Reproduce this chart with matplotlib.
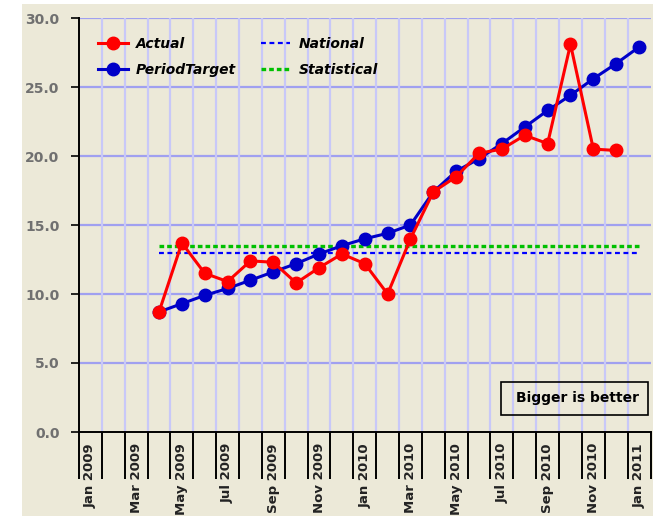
import matplotlib
matplotlib.use("Agg")
import matplotlib.pyplot as plt
from matplotlib.patches import Rectangle
import numpy as np

months = ["Jan 2009", "Feb 2009", "Mar 2009", "Apr 2009", "May 2009", "Jun 2009",
          "Jul 2009", "Aug 2009", "Sep 2009", "Oct 2009", "Nov 2009", "Dec 2009",
          "Jan 2010", "Feb 2010", "Mar 2010", "Apr 2010", "May 2010", "Jun 2010",
          "Jul 2010", "Aug 2010", "Sep 2010", "Oct 2010", "Nov 2010", "Dec 2010",
          "Jan 2011"]
nan = np.nan
actual = [nan, nan, nan, 8.7, 13.7, 11.5, 10.9, 12.4, 12.3, 10.8, 11.9, 12.9,
          12.2, 10.0, 14.0, 17.4, 18.5, 20.2, 20.5, 21.5, 20.9, 28.1, 20.5, 20.4, nan]
period_target = [nan, nan, nan, 8.7, 9.3, 9.9, 10.4, 11.0, 11.6, 12.2, 12.9, 13.5,
                 14.0, 14.4, 15.0, 17.4, 18.9, 19.8, 20.9, 22.1, 23.3, 24.4, 25.6, 26.7, 27.9]
national = [nan, nan, nan] + [13.0] * 22
statistical = [nan, nan, nan] + [13.5] * 22

bg = "#ECE9D8"
W, H = 653, 516
fig = plt.figure(figsize=(W / 100, H / 100), dpi=100, facecolor="white")
fig.patches.append(Rectangle((22 / W, 0), 1, (H - 4) / H, transform=fig.transFigure,
                             facecolor=bg, edgecolor="none", zorder=-10))

ax = fig.add_axes([79 / W, (H - 432) / H, (650.5 - 79) / W, (432 - 18) / H])
ax.set_facecolor(bg)

x = np.arange(len(months))

ax.plot(x, national, color="#0000FF", lw=1.6, linestyle=(0, (2.2, 1.6)), label="National", zorder=3)
ax.plot(x, statistical, color="#00C000", lw=2.4, linestyle=(0, (1.4, 0.9)), label="Statistical", zorder=3)
ax.plot(x, period_target, color="#0000C8", lw=2.2, marker="o", ms=9, label="PeriodTarget", zorder=4)
ax.plot(x, actual, color="#FF0000", lw=2.2, marker="o", ms=9, label="Actual", zorder=5)

ax.set_xlim(-0.5, len(months) - 0.5)
ax.set_ylim(0, 30)

# y axis
ax.set_yticks(np.arange(0, 31, 5))
ax.set_yticklabels(["%.1f" % v for v in np.arange(0, 31, 5)])
ax.tick_params(axis="y", length=6, width=1.2, color="black", pad=8,
               labelsize=10, labelcolor="#707070")
for t in ax.get_yticklabels():
    t.set_fontweight("bold")
for v in np.arange(5, 31, 5):
    ax.axhline(v, color="#A0A0F0", lw=1.6, zorder=1)

# x axis: labels every two months at centres, ticks at category boundaries
ax.set_xticks(x[::2])
ax.set_xticklabels(months[::2], rotation=90, fontsize=9.5, fontweight="bold", color="#222222")
ax.tick_params(axis="x", which="major", length=0, pad=8)
ax.set_xticks(np.arange(len(months) + 1) - 0.5, minor=True)
ax.tick_params(axis="x", which="minor", length=34, width=1.4, color="black")
for b in np.arange(1, len(months)) - 0.5:
    ax.axvline(b, color="#C8C8F8", lw=1.6, zorder=1)

for s in ["top", "right"]:
    ax.spines[s].set_visible(False)
ax.spines["left"].set_linewidth(1.4)
ax.spines["bottom"].set_linewidth(1.4)

h, l = ax.get_legend_handles_labels()
order = [3, 2, 0, 1]
leg = ax.legend([h[i] for i in order], [l[i] for i in order], ncol=2, frameon=False,
                loc="upper left", bbox_to_anchor=(0.012, 0.985), handlelength=2.1,
                handletextpad=0.6, columnspacing=1.8, labelspacing=0.85,
                prop={"weight": "bold", "style": "italic", "size": 10})

# note box
fig.patches.append(Rectangle((501 / W, (H - 415) / H), 147 / W, 33 / H,
                             transform=fig.transFigure, facecolor="none",
                             edgecolor="black", lw=1.2, zorder=10))
fig.text(577 / W, (H - 398) / H, "Bigger is better", ha="center", va="center",
         fontsize=10, fontweight="bold", color="black")

fig.savefig("out.png", dpi=100, facecolor=fig.get_facecolor())
